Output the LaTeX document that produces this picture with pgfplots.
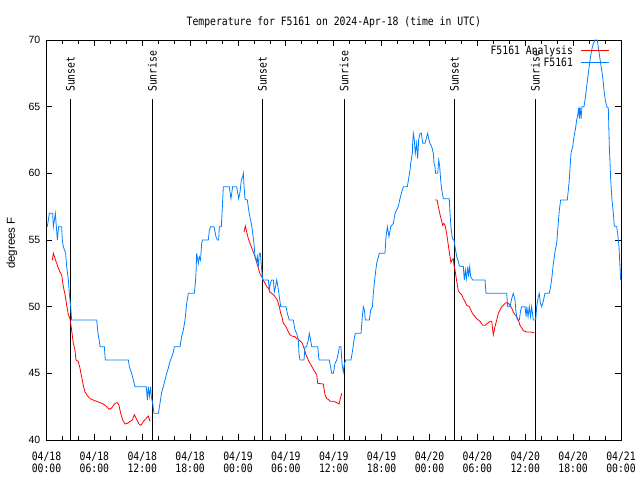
\documentclass[border=0pt]{standalone}
\usepackage{fontspec}
\setmainfont{DejaVu Sans Mono}[FakeStretch=0.85]
\newfontfamily\sansf{Liberation Sans}
\usepackage{pgfplots}
\pgfplotsset{compat=1.18}
\definecolor{sblue}{RGB}{0,128,255}
\newcommand\mf{\fontsize{11.5bp}{12bp}\selectfont}
\begin{document}
\begin{tikzpicture}
\path[use as bounding box] (-46.5bp,-40bp) rectangle (593.5bp,440bp);
\begin{axis}[
  scale only axis, width=574.5bp, height=400bp,
  xmin=0, xmax=72, ymin=40, ymax=70,
  axis line style={black, line width=0.8bp},
  xtick={0,6,...,72},
  xticklabels={{04/18\\00:00},{04/18\\06:00},{04/18\\12:00},{04/18\\18:00},{04/19\\00:00},{04/19\\06:00},{04/19\\12:00},{04/19\\18:00},{04/20\\00:00},{04/20\\06:00},{04/20\\12:00},{04/20\\18:00},{04/21\\00:00}},
  minor x tick num=2,
  ytick={40,45,...,70},
  tick align=inside,
  major tick length=6bp, minor tick length=4bp,
  tick style={black, line width=0.8bp},
  xticklabel style={font=\mf, align=center, anchor=north, inner sep=0pt, yshift=-12bp},
  yticklabel style={font=\sansf\fontsize{10.5bp}{12bp}\selectfont, anchor=east, inner sep=0pt, xshift=-6bp},
  /pgf/number format/assume math mode=true,
  legend cell align=right,
  legend plot pos=right,
  legend style={at={(rel axis cs:1,1)}, anchor=north east, xshift=-11bp, yshift=-6bp, draw=none, fill=none, font=\mf, inner sep=0pt, row sep=0pt, column sep=8bp, nodes={inner sep=0pt, text height=8.5bp, text depth=3.8bp}},
  legend image code/.code={\draw[#1] (0bp,2bp) -- (28bp,2bp);},
]
% sunrise / sunset lines
\addplot[black, line width=0.8bp, forget plot] coordinates {(2.99,40) (2.99,65.6)};
\addplot[black, line width=0.8bp, forget plot] coordinates {(13.26,40) (13.26,65.6)};
\addplot[black, line width=0.8bp, forget plot] coordinates {(27.05,40) (27.05,65.6)};
\addplot[black, line width=0.8bp, forget plot] coordinates {(37.31,40) (37.31,65.6)};
\addplot[black, line width=0.8bp, forget plot] coordinates {(51.11,40) (51.11,65.6)};
\addplot[black, line width=0.8bp, forget plot] coordinates {(61.26,40) (61.26,65.6)};
\node[rotate=90, anchor=west, inner sep=0pt, font=\mf] at (axis cs:2.99,66.1) {Sunset};
\node[rotate=90, anchor=west, inner sep=0pt, font=\mf] at (axis cs:13.26,66.1) {Sunrise};
\node[rotate=90, anchor=west, inner sep=0pt, font=\mf] at (axis cs:27.05,66.1) {Sunset};
\node[rotate=90, anchor=west, inner sep=0pt, font=\mf] at (axis cs:37.31,66.1) {Sunrise};
\node[rotate=90, anchor=west, inner sep=0pt, font=\mf] at (axis cs:51.11,66.1) {Sunset};
\node[rotate=90, anchor=west, inner sep=0pt, font=\mf] at (axis cs:61.26,66.1) {Sunrise};
% analysis (red)
\addplot[red, line width=0.8bp] coordinates {
(0.73,53.5) (0.86,54) (1.07,53.6) (1.28,53.25) (1.48,52.9) (1.69,52.6) (1.90,52.4) (2.11,51.5) (2.32,50.9) (2.53,50.1) (2.74,49.4) (2.94,49.1) (3.15,48.25) (3.36,47.25) (3.57,46.75) (3.69,46.0) (3.98,45.9) (4.19,45.4) (4.40,44.75) (4.61,44.1) (4.82,43.6) (5.03,43.4) (5.45,43.1) (5.86,43.0) (6.28,42.9) (6.71,42.8) (7.12,42.7) (7.54,42.5) (7.83,42.3) (8.16,42.4) (8.58,42.75) (8.88,42.8) (9.08,42.6) (9.30,42.0) (9.55,41.5) (9.84,41.2) (10.14,41.25) (10.47,41.4) (10.76,41.5) (11.01,41.9) (11.30,41.55) (11.59,41.2) (11.84,41.1) (12.14,41.4) (12.47,41.6) (12.76,41.8) (12.97,41.4)

(24.75,55.6) (24.92,56.05) (25.09,55.6) (25.3,55.1) (25.5,54.75) (25.72,54.4) (25.92,54.1) (26.13,53.75) (26.34,53.3) (26.55,52.9) (26.76,52.45) (26.97,52.25) (27.17,52) (27.38,51.75) (27.6,51.5) (27.8,51.4) (28.01,51.1) (28.22,51) (28.43,50.9) (28.64,50.75) (28.93,50.5) (29.18,50) (29.35,49.5) (29.51,49.25) (29.68,48.75) (29.89,48.6) (30.1,48.4) (30.31,48.1) (30.52,47.9) (30.73,47.8) (31.14,47.75) (31.35,47.6) (31.56,47.55) (31.85,47.4) (32.06,47.25) (32.27,46.9) (32.52,46.4) (32.81,46) (33.02,45.75) (33.36,45.4) (33.65,45.1) (33.86,44.9) (33.99,44.25) (34.69,44.2) (34.9,43.4) (35.12,43.1) (35.32,43.05) (35.53,42.9) (35.82,42.9) (36.0,42.9) (36.37,42.8) (36.66,42.7) (36.78,43) (36.99,43.5)

(48.69,58) (48.95,58) (49.11,57.5) (49.32,56.9) (49.53,56.4) (49.65,56.1) (49.8,56.25) (49.95,56.1) (50.15,55.5) (50.36,54.6) (50.57,53.75) (50.69,53.3) (50.82,53.5) (50.98,53.6) (51.07,53.1) (51.2,52.75) (51.41,51.9) (51.61,51.2) (51.82,51) (52.03,50.9) (52.24,50.6) (52.45,50.4) (52.66,50.1) (52.99,50) (53.29,49.6) (53.49,49.4) (53.92,49.1) (54.33,48.9) (54.67,48.6) (54.96,48.6) (55.17,48.7) (55.58,48.9) (55.8,48.9) (55.92,48.25) (56.0,47.9) (56.21,48.5) (56.42,49) (56.63,49.5) (56.84,49.75) (57.05,50) (57.25,50.1) (57.46,50.25) (57.68,50.3) (57.9,50.25) (58.09,50.1) (58.3,49.9) (58.5,49.6) (58.72,49.4) (58.93,49.25) (59.13,49) (59.34,48.6) (59.56,48.4) (59.76,48.2) (60.18,48.1) (60.6,48.1) (61.1,48.05)
};
\addlegendentry{F5161 Analysis}
% observed (blue)
\addplot[sblue, line width=0.8bp] coordinates {
(0.10,56) (0.36,57) (0.77,57) (0.86,56) (1.11,57) (1.36,55) (1.52,56) (1.90,56) (1.98,55) (2.11,54.5) (2.40,54) (2.53,53) (2.74,52) (2.86,51) (3.03,50) (3.15,49) (6.29,49) (6.45,48) (6.6,47.5) (6.71,47) (7.25,47) (7.37,46) (10.26,46) (10.38,45.5) (10.67,45) (10.88,44.5) (11.09,44) (12.5,44) (12.64,43) (12.76,44) (12.9,43.25) (13.04,44) (13.15,43.2) (13.31,42.75) (13.47,42) (14.02,42) (14.22,42.75) (14.44,43.6) (14.64,44) (14.85,44.5) (15.06,45) (15.27,45.4) (15.48,45.9) (15.69,46.2) (15.9,46.6) (16.02,47) (16.73,47) (16.94,47.75) (17.15,48.25) (17.36,49) (17.57,50.25) (17.78,51) (18.53,51) (18.65,51.75) (18.74,52.5) (18.82,54) (19.03,53.25) (19.15,53.75) (19.3,53.5) (19.45,54.75) (19.53,55) (20.28,55) (20.41,55.75) (20.58,56) (20.99,56) (21.24,55.25) (21.41,55) (21.58,55) (21.66,56) (21.91,56) (22.04,57.5) (22.16,59) (22.91,59) (23.12,58.1) (23.33,59) (23.83,59) (24.09,58.1) (24.25,58.6) (24.42,59.5) (24.59,59.75) (24.67,60) (24.75,59.1) (24.88,58.05) (25.17,58) (25.34,57.25) (25.5,56.7) (25.72,56.1) (25.84,55.5) (26.0,54.75) (26.13,53.75) (26.34,53.4) (26.42,53.75) (26.55,53) (26.67,54) (26.8,54) (26.97,52.75) (27.09,52) (27.8,52) (27.93,51.25) (28.05,51.75) (28.22,52) (28.43,52) (28.55,51.1) (28.7,51.5) (28.85,52) (29.0,51.5) (29.18,50.75) (29.35,50) (30.02,50) (30.18,49.5) (30.43,49) (30.93,49) (31.14,48.25) (31.35,48) (31.56,47.5) (31.64,46.5) (31.77,46) (32.27,46) (32.4,47) (32.6,47) (32.81,47.5) (32.94,48) (33.1,47.5) (33.24,47) (33.99,47) (34.15,46) (35.44,46) (35.62,45.4) (35.74,45) (35.95,45) (36.16,45.75) (36.37,46) (36.57,46.5) (36.7,47) (36.9,47) (37.03,45.75) (37.2,45.1) (37.35,45.75) (37.5,46) (38.16,46) (38.37,46.75) (38.54,47.5) (38.7,48) (39.42,48) (39.58,49.25) (39.71,50) (39.84,49.75) (39.96,49) (40.46,49) (40.63,49.75) (40.84,50) (40.96,51) (41.17,52.25) (41.38,53.25) (41.71,54) (42.42,54) (42.55,55.25) (42.72,56) (42.92,55.25) (43.14,56) (43.47,56.25) (43.68,57) (44.09,57.5) (44.3,58.1) (44.59,58.75) (44.72,59) (45.22,59) (45.43,59.75) (45.56,60.25) (45.68,60.9) (45.85,61.5) (45.89,62.25) (45.97,63) (46.1,62.5) (46.22,61.5) (46.39,62.25) (46.52,61.1) (46.64,62.5) (46.81,63) (46.98,63) (47.15,62.25) (47.44,62.25) (47.65,62.75) (47.77,63) (47.9,62.6) (48.05,62.25) (48.28,62) (48.48,61.5) (48.57,60.75) (48.69,60.5) (48.77,60) (49.03,60) (49.16,61) (49.28,60.5) (49.4,59.5) (49.53,58.75) (49.65,58.4) (49.73,58.1) (50.48,58.1) (50.57,57) (50.69,56) (50.86,55.1) (51.07,55) (51.2,54.5) (51.41,53.75) (51.61,53.4) (51.74,53.05) (52.24,53) (52.36,52) (52.5,52.75) (52.62,52.1) (52.8,53) (52.9,52.25) (53.04,53) (53.16,52.25) (53.41,52) (54.96,52) (55.08,51) (57.68,51) (57.8,50) (58.09,50) (58.3,50.6) (58.5,51) (58.72,50.5) (58.84,49.6) (59.0,49) (59.26,49) (59.43,49.75) (59.56,50) (59.97,50) (60.1,49.25) (60.2,50) (60.35,49.25) (60.5,50) (60.65,49.25) (60.8,50) (61.01,49) (61.31,49) (61.43,50) (61.64,50.75) (61.75,51) (61.9,50.25) (62.06,50) (62.26,50.4) (62.47,51) (63.01,51) (63.18,51.5) (63.35,52.25) (63.52,53.25) (63.65,53.75) (63.77,54.25) (63.94,54.75) (64.07,55.75) (64.27,57.25) (64.44,58) (65.27,58) (65.4,58.75) (65.52,59.5) (65.6,60.25) (65.73,61.5) (65.94,62) (66.11,62.75) (66.27,63.25) (66.45,64) (66.61,64.5) (66.69,64.9) (66.78,64.1) (66.86,65) (67.0,64.1) (67.11,65) (67.36,65) (67.49,65.5) (67.7,66.5) (67.9,67.5) (68.12,68.5) (68.33,69.25) (68.53,69.75) (68.74,70) (69.03,70) (69.2,69.25) (69.45,68.25) (69.7,67.25) (69.87,66.25) (70.0,65.6) (70.21,65) (70.41,64.9) (70.54,62) (70.71,59.5) (70.87,58) (71.04,57) (71.16,56.05) (71.46,56) (71.58,55.5) (71.75,54.5) (71.87,53) (71.96,52)
};
\addlegendentry{F5161}
\end{axis}
\node[font=\mf, anchor=base] at (287.3bp,414bp) {Temperature for F5161 on 2024-Apr-18 (time in UTC)};
\node[font=\sansf\fontsize{11.5bp}{12bp}\selectfont, rotate=90, anchor=center] at (-34.5bp,197bp) {degrees F};
\end{tikzpicture}
\end{document}
